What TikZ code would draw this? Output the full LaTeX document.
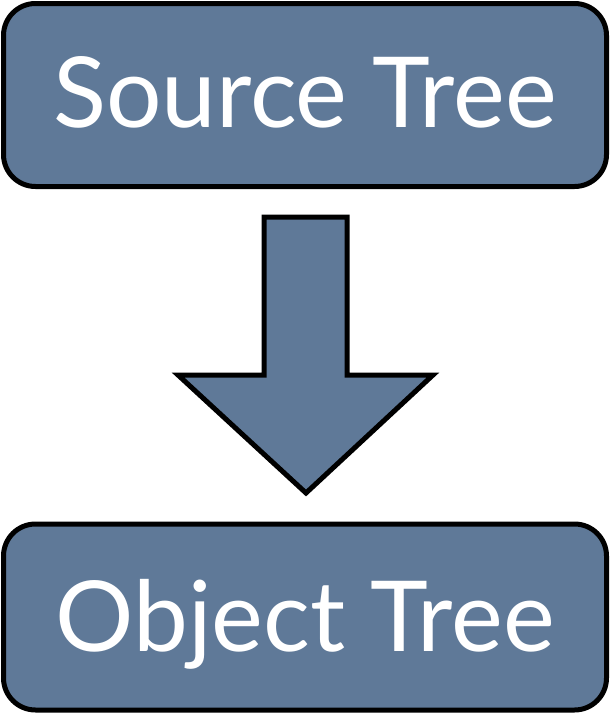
\documentclass[tikz,border=0pt]{standalone}
\usepackage{fontspec}
\setmainfont{Lato}
\definecolor{slate}{RGB}{95,121,152}
\begin{document}
\begin{tikzpicture}[x=1pt,y=-1pt,
  box/.style={draw=black,line width=5pt,fill=slate,rounded corners=32pt,minimum width=603pt,text=white,font=\fontsize{98}{98}\selectfont,inner sep=0pt},
  bigarrow/.style={draw=black,line width=5pt,fill=slate,line join=miter}]
\useasboundingbox (0,0) rectangle (610,715);
\node[box,minimum height=183pt] (src) at (305,95) {\raisebox{-32pt}[0pt][0pt]{Source Tree}};
\node[box,minimum height=186pt] (obj) at (305,617) {\raisebox{-34pt}[0pt][0pt]{Object Tree}};
\coordinate (a1) at (264,217);
\draw[bigarrow] (a1) -- (347,217) -- (347,375) -- (433,375) -- (306,493) -- (178,375) -- (264,375) -- cycle;
\end{tikzpicture}
\end{document}
